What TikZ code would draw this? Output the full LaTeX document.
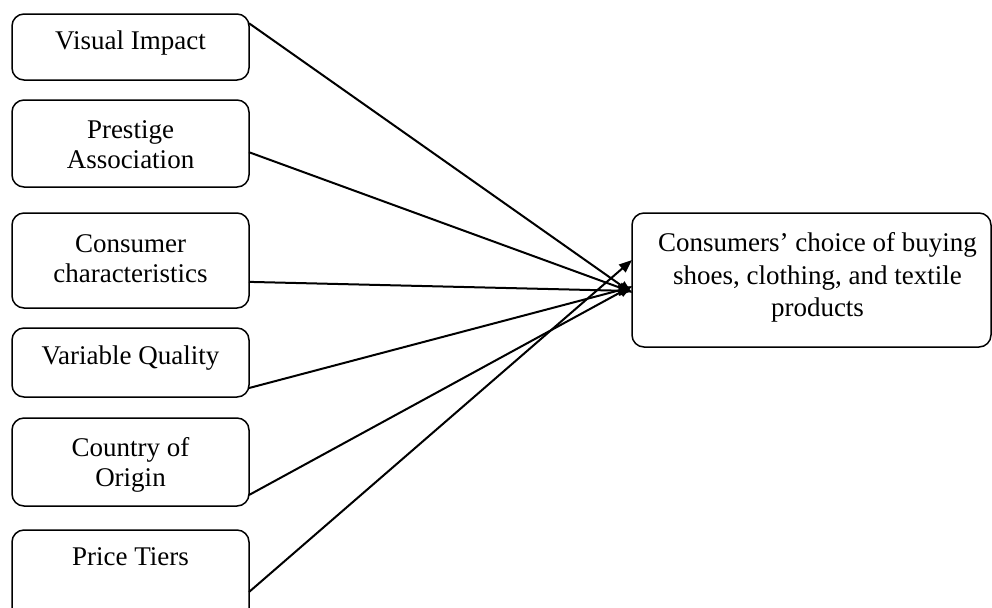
\documentclass[tikz,border=0pt]{standalone}
\usepackage{fontspec}
\setmainfont{Liberation Serif}
\usetikzlibrary{calc,arrows.meta}
\begin{document}
\begin{tikzpicture}[x=0.5pt,y=-0.5pt,
  box/.style={draw, line width=0.75pt, rounded corners=6pt, inner sep=0pt, outer sep=0pt},
  lbox/.style={box, minimum width=118.5pt},
  lbl/.style={inner sep=0pt, outer sep=0pt, anchor=north, align=center,
    font=\fontsize{13.5}{15}\selectfont},
  rlbl/.style={lbl, font=\fontsize{13.5}{16.3}\selectfont},
  conn/.style={line width=1pt, -{Triangle[length=6.5pt,width=5pt]}}]
\useasboundingbox (0,0) rectangle (992,607);
\clip (0,0) rectangle (992,607);
% boxes
\node[lbox, minimum height=33pt]   (b1) at (130.5,47) {};
\node[lbox, minimum height=43.5pt] (b2) at (130.5,143.5) {};
\node[lbox, minimum height=47.5pt] (b3) at (130.5,260.5) {};
\node[lbox, minimum height=34.5pt] (b4) at (130.5,362.5) {};
\node[lbox, minimum height=44pt]   (b5) at (130.5,462) {};
\node[lbox, minimum height=50pt]   (b6) at (130.5,580) {};
\node[box, minimum width=179.5pt, minimum height=67pt] (r) at (811.5,280) {};
% texts
\node[lbl] (t1) at ([yshift=-8.5pt]b1.north) {Visual Impact};
\node[lbl] (t2) at ([yshift=-10.5pt]b2.north) {Prestige\\Association};
\node[lbl] (t3) at ([yshift=-10.75pt]b3.north) {Consumer\\characteristics};
\node[lbl] (t4) at ([yshift=-9pt]b4.north) {Variable Quality};
\node[lbl] (t5) at ([yshift=-9.75pt]b5.north) {Country of\\Origin};
\node[lbl] (t6) at ([yshift=-9pt]b6.north) {Price Tiers};
\node[rlbl] (tr) at ([xshift=3pt,yshift=-9.75pt]r.north) {Consumers’ choice of buying\\shoes, clothing, and textile\\products};
% connectors
\draw[conn] ($(b1.north east)!0.14!(b1.south east)$) -- ($(r.north west)!0.597!(r.south west)$);
\draw[conn] ($(b2.north east)!0.6!(b2.south east)$) -- ($(r.north west)!0.59!(r.south west)$);
\draw[conn] ($(b3.north east)!0.725!(b3.south east)$) -- ($(r.north west)!0.582!(r.south west)$);
\draw[conn] ($(b4.north east)!0.87!(b4.south east)$) -- ($(r.north west)!0.552!(r.south west)$);
\draw[conn] ($(b5.north east)!0.875!(b5.south east)$) -- ($(r.north west)!0.545!(r.south west)$);
\draw[conn] ($(b6.north east)!0.62!(b6.south east)$) -- ($(r.north west)!0.351!(r.south west)$);
\end{tikzpicture}
\end{document}
